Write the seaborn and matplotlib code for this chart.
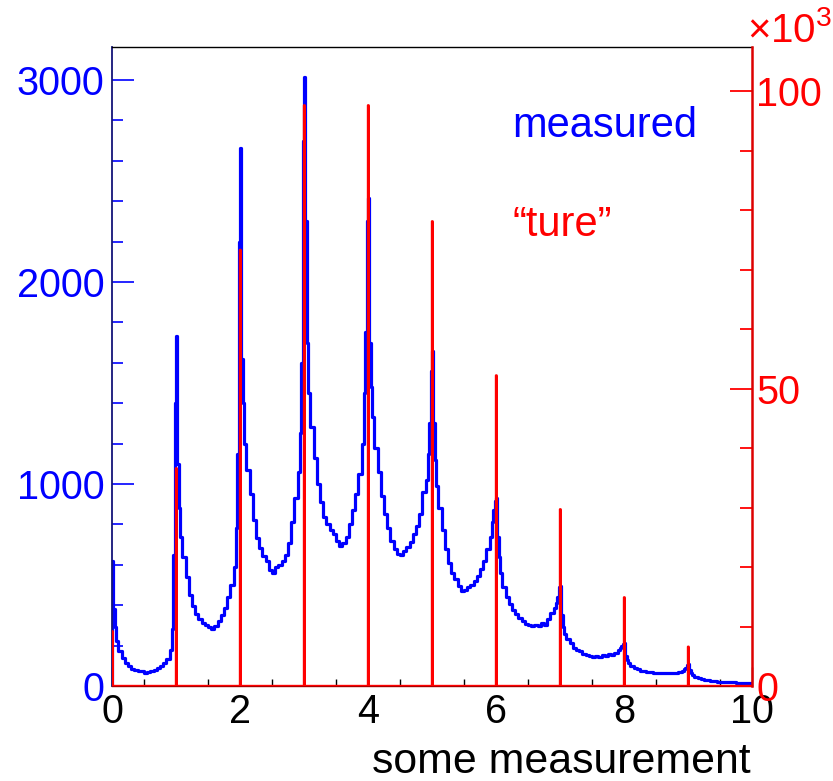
import numpy as np
import pandas as pd
import matplotlib
matplotlib.use("Agg")
import matplotlib.pyplot as plt
import seaborn as sns
from matplotlib.ticker import MultipleLocator

# ---------------- data ----------------
# "true" distribution: spikes at integer positions (values in thousands)
true_pos = [0, 1, 2, 3, 4, 5, 6, 7, 8, 9]
true_k = [9.2, 36.6, 73.3, 97.6, 97.6, 78.1, 52.2, 29.7, 14.9, 6.6]

# measured histogram: bin edges inside each unit interval (relative to k)
rel_edges = [0.0, 0.01, 0.02, 0.04, 0.07, 0.10, 0.15, 0.20, 0.25, 0.30, 0.35,
             0.40, 0.45, 0.50, 0.55, 0.60, 0.65, 0.70, 0.75, 0.80, 0.85, 0.90,
             0.93, 0.96, 0.98, 0.99]

meas_0 = [620, 480, 380, 290, 225, 175, 140, 112, 97, 85, 80, 74, 72, 66, 70,
          75, 80, 88, 98, 112, 135, 180, 280, 650, 1050, 1400]
meas_1 = [1730, 1350, 1100, 880, 740, 640, 540, 450, 395, 355, 330, 310, 300,
          290, 280, 295, 320, 350, 385, 440, 500, 590, 780, 1150, 1700, 2200]
meas_2 = [2663, 1950, 1620, 1400, 1200, 1070, 950, 820, 735, 685, 645, 620, 575,
          560, 590, 600, 620, 650, 710, 810, 930, 1060, 1250, 1600, 2200, 2700]
meas_3 = [3015, 2650, 2300, 1700, 1450, 1280, 1130, 1000, 910, 835, 800, 770,
          750, 720, 695, 710, 740, 800, 870, 950, 1050, 1200, 1450, 1750, 2050,
          2300]
meas_4 = [2416, 1950, 1700, 1480, 1330, 1180, 1060, 940, 850, 780, 720, 680,
          655, 650, 670, 690, 715, 750, 790, 850, 960, 1020, 1150, 1300, 1450,
          1560]
meas_5 = [1658, 1450, 1300, 1120, 990, 880, 770, 680, 610, 560, 530, 495, 470,
          475, 490, 500, 520, 545, 580, 620, 680, 740, 810, 870, 900, 915]
meas_6 = [930, 840, 740, 640, 560, 490, 440, 405, 375, 355, 335, 320, 305, 300,
          295, 300, 295, 310, 300, 330, 360, 385, 410, 440, 470, 490]
meas_7 = [495, 440, 350, 290, 255, 235, 215, 190, 178, 172, 160, 155, 150, 145,
          150, 145, 152, 150, 158, 155, 165, 178, 190, 200, 200, 208]
meas_8 = [213, 180, 150, 128, 112, 100, 90, 82, 76, 72, 70, 68, 65, 62, 64, 62,
          64, 62, 66, 65, 70, 75, 82, 88, 95, 105]
meas_9 = [110, 95, 80, 65, 55, 45, 38, 34, 30, 28, 26, 24, 22, 22, 20, 20, 18,
          19, 17, 17, 16, 16, 15, 15, 15, 15]

# ---------------- step tables for seaborn ----------------
meas = meas_0 + meas_1 + meas_2 + meas_3 + meas_4 + meas_5 + meas_6 + meas_7 + meas_8 + meas_9
edges = np.concatenate([k + np.array(rel_edges) for k in range(10)] + [np.array([10.0])])
df_meas = pd.DataFrame({"x": np.r_[0.0, edges, 10.0],
                        "y": np.r_[0.0, meas, meas[-1], 0.0]})

true_edges = np.linspace(0, 10, 1001)
true_vals = np.zeros(1000)
for p, v in zip(true_pos, true_k):
    true_vals[int(round(p * 100))] = v
df_true = pd.DataFrame({"x": np.r_[0.0, true_edges],
                        "y": np.r_[0.0, true_vals, 0.0]})

# ---------------- figure ----------------
sns.set_theme(style="white")
plt.rcParams["font.family"] = ["Liberation Sans", "DejaVu Sans"]
plt.rcParams["mathtext.fontset"] = "custom"
plt.rcParams["mathtext.rm"] = "Liberation Sans"
plt.rcParams["mathtext.it"] = "Liberation Sans"
plt.rcParams["mathtext.bf"] = "Liberation Sans"

W, H = 833, 781
fig = plt.figure(figsize=(W / 100, H / 100), dpi=100)
fig.patch.set_facecolor("white")
ax = fig.add_axes([112 / W, 1 - 686 / H, 640 / W, 639 / H])

sns.lineplot(data=df_meas, x="x", y="y", drawstyle="steps-post", estimator=None,
             sort=False, color="#0000ff", linewidth=2.3, ax=ax)

ax2 = ax.twinx()
sns.lineplot(data=df_true, x="x", y="y", drawstyle="steps-post", estimator=None,
             sort=False, color="#ff0000", linewidth=1.7, ax=ax2)

ax.set_xlim(0, 10)
ax.set_ylim(0, 3163)
ax2.set_ylim(0, 107.4)
ax.set_xlabel("")
ax.set_ylabel("")
ax2.set_ylabel("")
ax2.set_xlabel("")

# x axis
ax.set_xticks([0, 2, 4, 6, 8, 10])
ax.set_xticklabels(["0", "2", "4", "6", "8", "10"])
ax.xaxis.set_minor_locator(MultipleLocator(0.5))
ax.tick_params(axis="x", which="major", direction="in", length=13.7, width=1,
               color="black", labelsize=28.5, labelcolor="black", pad=5,
               top=False, bottom=True)
ax.tick_params(axis="x", which="minor", direction="in", length=5.3, width=1,
               color="black", top=False, bottom=True)

# left y axis
ax.set_yticks([0, 1000, 2000, 3000])
ax.set_yticklabels(["0", "1000", "2000", "3000"])
ax.yaxis.set_minor_locator(MultipleLocator(200))
ax.tick_params(axis="y", which="major", direction="in", length=15.8, width=1.2,
               color="#0000ff", labelcolor="#0000ff", labelsize=28.5, pad=5.5,
               left=True, right=False)
ax.tick_params(axis="y", which="minor", direction="in", length=7.9, width=1.2,
               color="#0000ff", left=True, right=False)

# right y axis (x10^3)
ax2.set_yticks([0, 50, 100])
ax2.set_yticklabels(["0", "50", "100"])
ax2.yaxis.set_minor_locator(MultipleLocator(10))
ax2.tick_params(axis="y", which="major", direction="in", length=15.8, width=1.3,
                color="#ff0000", labelcolor="#ff0000", labelsize=28.5, pad=3,
                right=True, left=False, labelright=True, labelleft=False)
ax2.tick_params(axis="y", which="minor", direction="in", length=8.6, width=1.3,
                color="#ff0000", right=True, left=False)

# spines
for s in ax.spines.values():
    s.set_visible(True)
ax.spines["top"].set_color("black")
ax.spines["top"].set_linewidth(1.0)
ax.spines["left"].set_color("#141478")
ax.spines["left"].set_linewidth(1.3)
ax.spines["bottom"].set_color("#aa0000")
ax.spines["bottom"].set_linewidth(1.0)
ax.spines["right"].set_visible(False)
for name in ["top", "left", "bottom"]:
    ax2.spines[name].set_visible(False)
ax2.spines["right"].set_color("#dd0000")
ax2.spines["right"].set_linewidth(1.8)
ax.grid(False)
ax2.grid(False)
if ax.get_legend() is not None:
    ax.get_legend().remove()

# texts
fig.text(512 / W, 1 - 137 / H, "measured", color="#0000ff", fontsize=30,
         ha="left", va="baseline")
fig.text(513 / W, 1 - 236 / H, "\u201cture\u201d", color="#ff0000", fontsize=30,
         ha="left", va="baseline")
fig.text(751 / W, 1 - 773 / H, "some measurement", color="black", fontsize=30.8,
         ha="right", va="baseline")
fig.text(747 / W, 1 - 42 / H, "\u00d710$^{3}$", color="#ff0000", fontsize=29,
         ha="left", va="baseline")

fig.savefig("out.png", dpi=100)
